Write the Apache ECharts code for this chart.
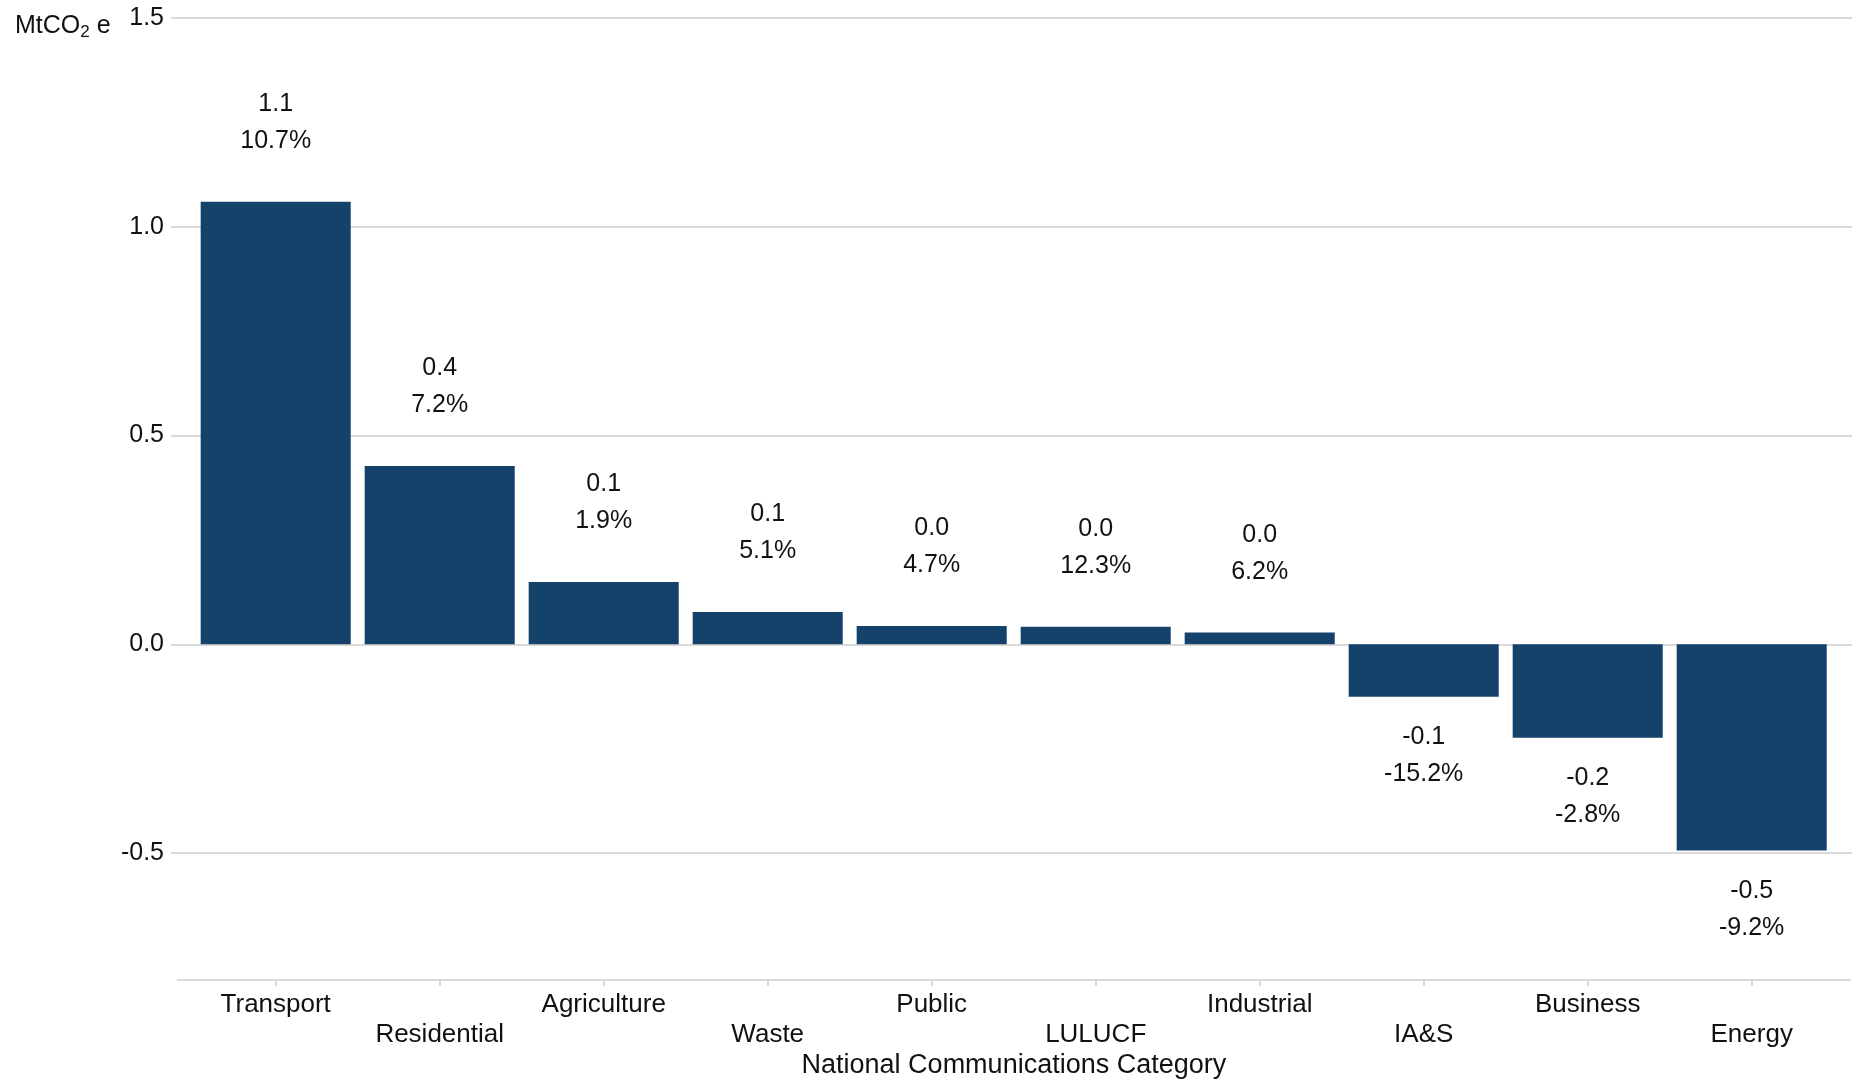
<!DOCTYPE html>
<html>
<head>
<meta charset="utf-8">
<script src="https://cdn.jsdelivr.net/npm/echarts@6/dist/echarts.min.js"></script>
<style>
html,body{margin:0;padding:0;background:#fff;}
#chart{width:1852px;height:1079px;}
</style>
</head>
<body>
<div id="chart"></div>
<script>
const categories = ['Transport','Residential','Agriculture','Waste','Public','LULUCF','Industrial','IA&S','Business','Energy'];
const changeValues = [1.06, 0.427, 0.149, 0.077, 0.044, 0.042, 0.028, -0.126, -0.224, -0.494];
const changePercents = [10.7, 7.2, 1.9, 5.1, 4.7, 12.3, 6.2, -15.2, -2.8, -9.2];
const yTicks = { min: -0.5, max: 1.5, interval: 0.5 };

const FONT = 'Liberation Sans, Arial, sans-serif';
const TXT = '#111111';
const GRIDC = '#d9d9d9';
const BAR = '#15426b';
const FS = 25;

const chart = echarts.init(document.getElementById('chart'));

const barData = changeValues.map((v, i) => ({
  value: v,
  pct: changePercents[i],
  label: v >= 0 ? { position: 'top', distance: 42 } : { position: 'bottom', distance: 22 }
}));

const gridTop = 18, gridBottom = 226;

chart.setOption({
  animation: false,
  backgroundColor: '#ffffff',
  textStyle: { fontFamily: FONT },
  grid: [
    { left: 171, right: 0, top: gridTop, bottom: gridBottom, containLabel: false, outerBoundsMode: 'none' },
    { left: 193.7, width: 1640, top: gridTop, bottom: gridBottom, containLabel: false, outerBoundsMode: 'none' },
    { left: 177.7, width: 1672.4, top: gridTop, bottom: gridBottom, containLabel: false, outerBoundsMode: 'none' }
  ],
  xAxis: [
    { gridIndex: 0, type: 'category', data: categories, show: false },
    {
      gridIndex: 1, type: 'category', data: categories, position: 'bottom', offset: 127,
      axisLine: { show: false, onZero: false },
      axisTick: { show: true, alignWithLabel: true, length: 6, lineStyle: { color: GRIDC, width: 2 } },
      axisLabel: {
        interval: 0, margin: 10, color: TXT, fontSize: 26, fontFamily: FONT,
        lineHeight: 30, verticalAlign: 'top',
        formatter: (v, i) => (i % 2 ? '\n' + v : v)
      }
    },
    {
      gridIndex: 2, type: 'value', min: 0, max: 1, position: 'bottom', offset: 127,
      axisLine: { show: true, onZero: false, lineStyle: { color: GRIDC, width: 2 } },
      axisTick: { show: false }, axisLabel: { show: false }, splitLine: { show: false },
      name: 'National Communications Category', nameLocation: 'middle', nameGap: 72,
      nameTextStyle: { color: TXT, fontSize: 27, fontFamily: FONT }
    }
  ],
  yAxis: [
    {
      gridIndex: 0, type: 'value', min: yTicks.min, max: yTicks.max, interval: yTicks.interval,
      axisLine: { show: false }, axisTick: { show: false },
      axisLabel: { color: TXT, fontSize: FS, fontFamily: FONT, margin: 7, formatter: v => v.toFixed(1) },
      splitLine: { show: true, lineStyle: { color: GRIDC, width: 2 } }
    },
    { gridIndex: 1, type: 'value', min: yTicks.min, max: yTicks.max, interval: yTicks.interval, show: false, splitLine: { show: false } },
    { gridIndex: 2, type: 'value', min: yTicks.min, max: yTicks.max, interval: yTicks.interval, show: false, splitLine: { show: false } }
  ],
  graphic: [
    {
      type: 'text', left: 15, top: 11,
      style: {
        text: '{n|MtCO}{s|2}{n| e}',
        rich: {
          n: { fontSize: FS, fontFamily: FONT, fill: TXT, lineHeight: 30 },
          s: { fontSize: 17, fontFamily: FONT, fill: TXT, lineHeight: 30, padding: [13, 0, 0, 0] }
        }
      }
    }
  ],
  series: [
    {
      type: 'bar', xAxisIndex: 1, yAxisIndex: 1,
      data: barData, barWidth: '91.5%',
      itemStyle: { color: BAR },
      label: {
        show: true, color: TXT, fontSize: FS, fontFamily: FONT, lineHeight: 37,
        formatter: p => p.value.toFixed(1) + '\n' + p.data.pct.toFixed(1) + '%'
      }
    }
  ]
});
</script>
</body>
</html>
